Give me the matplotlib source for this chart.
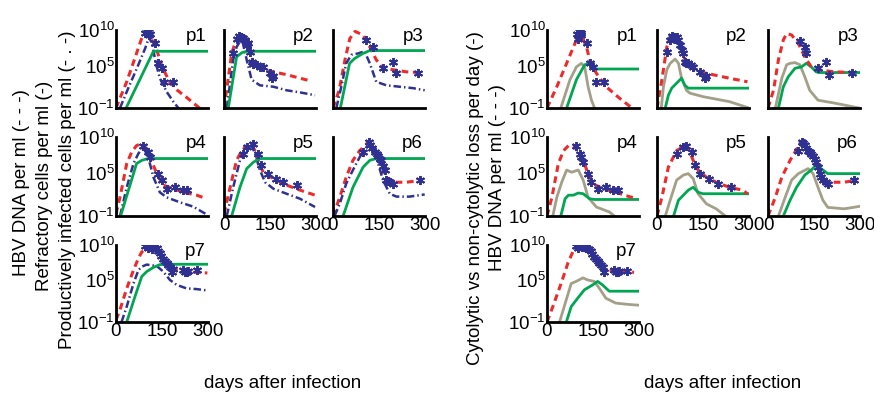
import matplotlib
matplotlib.use("Agg")
import matplotlib.pyplot as plt
from matplotlib.ticker import NullLocator

plt.rcParams['font.family'] = ['Liberation Sans', 'DejaVu Sans']
plt.rcParams['mathtext.fontset'] = 'custom'
plt.rcParams['mathtext.rm'] = 'Liberation Sans'

# values are (day, log10 of value)
# ---- left block: HBV DNA (red), productively infected (blue), refractory (green), data (stars)
L1_hbv = [(0,-1),(35,2.7),(67,6.7),(85,9.0),(100,9.6),(112,9.0),(130,7.6),(150,4.8),(175,2.7),(200,1.5),(230,0.5),(275,-1.1)]
L1_inf = [(13,-1),(40,1.8),(70,4.8),(95,7.4),(108,9.0),(118,8.0),(130,5.3),(143,3.2),(165,1.3),(187,-0.1),(205,-1.1)]
L1_ref = [(33,-1),(122,7.0),(300,7.0)]
L1_dat = [(96,9.6),(100,9.9),(104,9.7),(108,9.8),(112,9.5),(106,9.3),(127,8.1),(138,5.3),(149,4.6),(158,2.7),(187,2.6)]

L2_hbv = [(0,-1),(10,2.0),(25,6.7),(40,8.7),(52,9.2),(65,8.9),(80,7.5),(101,4.8),(128,4.4),(161,4.1),(204,3.7),(248,3.2),(275,2.9)]
L2_inf = [(9,-1),(30,5.8),(41,7.6),(58,8.8),(74,5.8),(90,3.0),(117,2.2),(161,2.0),(204,1.5),(248,1.2),(297,0.8)]
L2_ref = [(14,-1),(41,6.2),(58,6.8),(74,7.0),(300,7.0)]
L2_dat = [(30,6.7),(41,8.8),(48,9.2),(55,9.0),(62,8.9),(68,8.6),(75,7.9),(79,8.2),(86,6.9),(90,5.5),(95,5.2),(106,5.1),(117,4.8),(128,4.8),(150,3.9),(155,3.2),(161,3.5)]

L3_hbv = [(0,-1),(20,1.5),(40,6.0),(55,8.8),(72,9.8),(98,9.3),(120,7.6),(141,5.8),(163,4.6),(196,4.4),(239,4.1),(283,4.0)]
L3_inf = [(11,-1),(27,2.0),(43,5.3),(60,6.5),(82,6.7),(103,7.0),(120,5.3),(141,2.7),(174,2.2),(217,2.0),(261,1.8),(299,1.5)]
L3_ref = [(24,-1),(54,5.3),(71,6.0),(98,6.7),(120,7.1),(300,7.1)]
L3_dat = [(109,8.6),(130,7.6),(163,4.6),(196,5.5),(207,3.9),(277,4.0)]

L4_hbv = [(0,-0.7),(13,1.6),(35,6.3),(51,7.9),(67,8.8),(78,9.0),(95,8.6),(111,7.2),(133,4.9),(154,3.3),(187,2.8),(220,2.3),(263,1.9),(296,1.4)]
L4_inf = [(13,-1),(35,3.0),(57,6.3),(73,7.7),(89,8.6),(105,7.2),(122,4.4),(143,2.3),(165,1.6),(209,0.9),(252,0.3),(296,-0.8)]
L4_ref = [(15,-1),(67,6.3),(84,6.75),(105,7.0),(300,7.0)]
L4_dat = [(89,8.8),(105,7.9),(111,7.2),(138,4.9),(149,4.0),(165,2.8),(192,3.0),(220,2.6),(230,2.6)]

L5_hbv = [(0,-0.7),(20,3.0),(41,6.75),(58,8.1),(74,8.8),(90,9.0),(101,8.1),(115,6.3),(128,5.1),(161,4.2),(204,3.3),(248,2.6),(297,1.9)]
L5_inf = [(9,-1),(30,3.0),(52,6.75),(74,8.4),(90,8.8),(101,7.7),(117,5.4),(134,3.7),(161,2.8),(204,2.1),(248,1.4),(297,0.25)]
L5_ref = [(25,-1),(52,3.0),(74,5.6),(96,6.5),(117,7.0),(300,7.0)]
L5_dat = [(63,7.7),(74,8.6),(96,9.0),(112,7.7),(120,6.1),(144,4.9),(171,4.2),(193,3.7),(237,3.3)]

L6_hbv = [(0,-1),(22,1.6),(43,4.4),(65,6.75),(87,8.1),(109,9.0),(114,9.3),(141,7.9),(158,6.75),(174,4.0),(196,3.7),(239,3.7),(293,4.0)]
L6_inf = [(5,-1),(22,0.7),(43,3.5),(65,5.4),(87,7.2),(109,8.6),(120,8.8),(141,7.2),(163,4.0),(185,2.1),(207,1.7),(250,1.7),(299,2.0)]
L6_ref = [(33,-1),(65,3.0),(98,5.8),(120,6.75),(141,7.0),(300,7.0)]
L6_dat = [(98,7.9),(118,9.3),(122,8.9),(128,8.5),(136,7.9),(142,7.6),(147,7.4),(153,7.0),(158,6.75),(164,6.0),(169,5.4),(174,4.0),(180,3.9),(185,3.7),(196,3.5),(283,4.0)]

L7_hbv = [(0,-0.7),(13,0.75),(35,3.8),(57,6.4),(73,8.1),(84,9.0),(100,9.5),(122,9.5),(149,8.6),(165,7.4),(182,6.5),(198,6.4),(230,6.2),(263,6.1),(298,6.0)]
L7_inf = [(18,-1),(35,1.2),(57,4.5),(73,6.4),(84,6.9),(100,7.2),(133,7.0),(154,6.2),(176,5.0),(198,4.3),(230,3.8),(263,3.7),(298,3.5)]
L7_ref = [(35,-1),(62,2.65),(84,5.5),(100,6.2),(122,6.8),(143,7.2),(176,7.25),(300,7.25)]
L7_dat = [(95,9.8),(103,9.6),(110,9.7),(116,9.5),(122,9.8),(127,10.0),(133,9.6),(138,9.2),(143,8.8),(148,8.4),(154,8.0),(160,7.7),(165,7.4),(170,7.2),(176,6.9),(182,6.2),(187,6.6),(220,6.4),(225,6.1),(230,6.2),(236,6.3),(263,6.4)]

# ---- right block: HBV DNA (red), cytolytic (grey), non-cytolytic (green), data (stars)
R1_hbv = [(0,-1),(32,2.0),(64,5.3),(91,8.1),(107,9.8),(129,7.6),(139,5.8),(161,3.9),(193,2.0),(236,0.4),(280,-1.1)]
R1_cyt = [(45,-1),(75,3.0),(96,4.8),(112,5.3),(123,4.8),(134,2.0),(145,0.1),(156,-1.1)]
R1_non = [(64,-1),(96,3.0),(123,5.1),(139,5.3),(150,4.8),(161,4.5),(300,4.5)]
R1_dat = [(98,9.5),(102,8.8),(104,9.8),(108,9.9),(112,9.6),(110,9.3),(129,8.1),(139,5.3),(150,4.8),(161,2.7),(187,2.6)]

R2_hbv = [(0,-1),(16,3.0),(32,7.6),(43,9.1),(64,9.1),(80,7.9),(91,5.8),(107,4.8),(139,4.1),(182,3.7),(236,3.2),(295,2.7)]
R2_cyt = [(14,-1),(21,2.0),(32,4.4),(43,5.3),(59,5.9),(70,5.3),(80,3.2),(96,1.5),(107,1.1),(150,0.6),(236,-0.1),(300,-1)]
R2_non = [(27,-1),(37,0.8),(48,1.8),(64,2.5),(80,3.2),(91,2.2),(102,1.8),(300,1.8)]
R2_dat = [(32,6.9),(43,8.6),(48,9.1),(54,9.0),(59,8.8),(64,9.0),(70,8.6),(75,7.9),(80,7.2),(86,6.7),(91,5.5),(96,5.4),(102,5.3),(110,5.0),(118,4.8),(139,4.1),(155,3.2),(161,3.5)]

R3_hbv = [(0,-1),(18,1.5),(34,5.8),(50,8.6),(61,9.5),(77,9.3),(99,8.1),(120,6.2),(141,4.8),(163,4.4),(216,4.1),(281,4.0)]
R3_cyt = [(24,-1),(45,3.2),(61,5.1),(72,5.3),(88,5.4),(104,5.1),(120,3.4),(136,1.5),(163,0.1),(216,-0.3),(297,-1)]
R3_non = [(34,-1),(50,2.0),(66,3.4),(88,4.6),(109,4.8),(125,5.3),(141,4.8),(157,4.1),(165,4.0),(300,4.0)]
R3_dat = [(104,8.4),(120,7.6),(123,6.8),(163,4.6),(190,5.5),(200,3.7),(275,4.0)]

R4_hbv = [(0,-1),(16,1.6),(37,6.3),(54,8.1),(70,8.8),(86,8.8),(102,7.9),(118,6.75),(134,4.9),(150,3.5),(182,2.8),(225,2.3),(268,1.7),(295,1.4)]
R4_cyt = [(19,-1),(32,1.6),(48,3.7),(64,5.4),(80,5.1),(102,5.4),(118,4.0),(134,1.6),(161,0.25),(204,-0.45),(222,-1.1)]
R4_non = [(45,-1),(59,1.4),(70,1.9),(86,1.9),(102,2.2),(118,2.1),(139,1.4),(155,1.3),(300,1.3)]
R4_dat = [(96,8.8),(107,7.7),(112,7.2),(118,6.5),(134,4.9),(145,3.7),(166,2.8),(193,3.0),(214,2.6),(230,2.6)]

R5_hbv = [(0,-1),(16,1.6),(37,5.8),(64,8.1),(91,8.8),(102,8.4),(118,6.75),(134,5.4),(161,4.4),(193,3.7),(236,3.0),(279,2.6),(295,2.1)]
R5_cyt = [(27,-1),(43,1.2),(64,4.0),(86,4.7),(102,4.9),(118,4.2),(134,2.1),(161,0.7),(193,0.0),(226,-1.1)]
R5_non = [(54,-1),(70,1.2),(86,1.9),(102,2.6),(118,3.0),(134,2.3),(150,2.1),(300,2.1)]
R5_dat = [(64,7.7),(86,8.6),(96,8.8),(113,7.9),(123,6.1),(139,4.9),(171,4.2),(198,3.5),(241,3.1)]

R6_hbv = [(0,-1),(24,1.6),(45,4.4),(72,6.75),(88,7.9),(104,9.1),(125,8.8),(147,7.2),(163,5.6),(179,4.0),(206,3.7),(248,3.7),(291,4.0)]
R6_cyt = [(34,-1),(56,1.6),(77,4.0),(99,4.9),(131,5.6),(147,4.9),(163,3.0),(179,1.2),(195,0.2),(248,0.0),(300,0.35)]
R6_non = [(50,-1),(72,1.2),(93,3.0),(120,4.7),(141,5.4),(157,6.1),(173,5.6),(195,4.9),(300,4.9)]
R6_dat = [(99,8.1),(112,9.3),(115,9.1),(120,8.9),(125,8.5),(131,8.1),(136,7.9),(141,7.7),(147,7.4),(152,7.0),(157,6.5),(163,5.8),(168,4.9),(174,4.4),(179,4.0),(188,3.8),(195,3.5),(281,4.0)]

R7_hbv = [(0,-1),(19,1.2),(46,4.5),(68,7.4),(84,9.0),(100,9.8),(138,9.5),(160,8.3),(181,6.9),(203,6.4),(246,6.2),(284,6.1)]
R7_cyt = [(41,-1),(63,2.2),(79,4.5),(95,4.8),(117,5.3),(133,5.0),(154,4.8),(171,3.8),(192,2.4),(224,1.7),(268,1.5),(300,1.4)]
R7_non = [(63,-1),(79,1.2),(100,2.4),(122,3.6),(149,4.3),(165,4.8),(181,4.3),(203,3.4),(300,3.4)]
R7_dat = [(95,9.8),(102,9.6),(108,9.9),(115,9.7),(122,9.9),(128,9.6),(133,9.4),(138,9.5),(143,9.1),(148,8.7),(154,8.3),(160,8.0),(165,7.7),(171,7.4),(176,7.2),(181,6.8),(187,6.2),(219,6.4),(225,6.2),(230,6.2),(235,6.3),(262,6.3)]

left_panels = [(L1_hbv, L1_inf, L1_ref, L1_dat), (L2_hbv, L2_inf, L2_ref, L2_dat),
               (L3_hbv, L3_inf, L3_ref, L3_dat), (L4_hbv, L4_inf, L4_ref, L4_dat),
               (L5_hbv, L5_inf, L5_ref, L5_dat), (L6_hbv, L6_inf, L6_ref, L6_dat),
               (L7_hbv, L7_inf, L7_ref, L7_dat)]
right_panels = [(R1_hbv, R1_cyt, R1_non, R1_dat), (R2_hbv, R2_cyt, R2_non, R2_dat),
                (R3_hbv, R3_cyt, R3_non, R3_dat), (R4_hbv, R4_cyt, R4_non, R4_dat),
                (R5_hbv, R5_cyt, R5_non, R5_dat), (R6_hbv, R6_cyt, R6_non, R6_dat),
                (R7_hbv, R7_cyt, R7_non, R7_dat)]
names = ['p1', 'p2', 'p3', 'p4', 'p5', 'p6', 'p7']

RED = '#ee2a2a'
BLUE = '#2e3192'
GREEN = '#00a651'
GREY = '#a39f88'

W, H = 874, 395
fig = plt.figure(figsize=(W / 100, H / 100), dpi=100)

rows = [(30, 108), (137, 216), (245, 322)]
left_cols = [116, 224, 333]
right_cols = [547, 657, 768]


def xs(pts):
    return [p[0] for p in pts]


def ys(pts):
    return [10.0 ** p[1] for p in pts]


def make_ax(x0, width, row, i):
    top, bot = rows[row]
    ax = fig.add_axes([x0 / W, 1 - bot / H, width / W, (bot - top) / H])
    ax.set_yscale('log')
    ax.set_xlim(0, 300)
    ax.set_ylim(1e-1, 1e10)
    ax.set_yticks([1e-1, 1e5, 1e10])
    ax.yaxis.set_minor_locator(NullLocator())
    ax.set_xticks([0, 150, 300])
    for s in ['top', 'right']:
        ax.spines[s].set_visible(False)
    for s in ['left', 'bottom']:
        ax.spines[s].set_linewidth(2)
    ax.tick_params(length=0, labelsize=13.5, pad=1)
    if i % 3 == 0:
        ax.set_yticklabels(['$10^{-1}$', '$10^{5}$', '$10^{10}$'])
    else:
        ax.set_yticklabels([])
    if i in (4, 5, 6):
        ax.set_xticklabels(['0', '150', '300'])
    else:
        ax.set_xticklabels([])
    ax.text(0.98, 1.02, names[i], transform=ax.transAxes, ha='right', va='top', fontsize=13.5)
    return ax


for i, (hbv, inf, ref, dat) in enumerate(left_panels):
    ax = make_ax(left_cols[i % 3], 92, i // 3, i)
    ax.plot(xs(hbv), ys(hbv), color=RED, lw=2.2, dashes=(2.2, 1.5))
    ax.plot(xs(inf), ys(inf), color=BLUE, lw=1.8, dashes=(3, 1.2, 0.6, 1.2))
    ax.plot(xs(ref), ys(ref), color=GREEN, lw=2)
    ax.plot(xs(dat), ys(dat), ls='none', marker=(6, 2, 0), ms=6.5, mew=1.4, color=BLUE)

for i, (hbv, cyt, non, dat) in enumerate(right_panels):
    ax = make_ax(right_cols[i % 3], 92, i // 3, i)
    ax.plot(xs(cyt), ys(cyt), color=GREY, lw=2)
    ax.plot(xs(non), ys(non), color=GREEN, lw=2)
    ax.plot(xs(hbv), ys(hbv), color=RED, lw=2.2, dashes=(2.2, 1.5))
    ax.plot(xs(dat), ys(dat), ls='none', marker=(6, 2, 0), ms=6.5, mew=1.4, color=BLUE)

fig.text(22 / W, 1 - 183 / H, 'HBV DNA per ml (- - -)', rotation=90, ha='center', va='center', fontsize=13.5)
fig.text(45 / W, 1 - 186 / H, 'Refractory cells per ml (-)', rotation=90, ha='center', va='center', fontsize=13.5)
fig.text(68 / W, 1 - 190 / H, 'Productively infected cells per ml (- . -)', rotation=90, ha='center', va='center', fontsize=13.5)
fig.text(475 / W, 1 - 198 / H, 'Cytolytic vs non-cytolytic loss per day (-)', rotation=90, ha='center', va='center', fontsize=13.5)
fig.text(497 / W, 1 - 178 / H, 'HBV DNA per ml (- - -)', rotation=90, ha='center', va='center', fontsize=13.5)
fig.text(283 / W, 1 - 383 / H, 'days after infection', ha='center', va='center', fontsize=13.5)
fig.text(723 / W, 1 - 383 / H, 'days after infection', ha='center', va='center', fontsize=13.5)

fig.savefig('out.png', dpi=100)
